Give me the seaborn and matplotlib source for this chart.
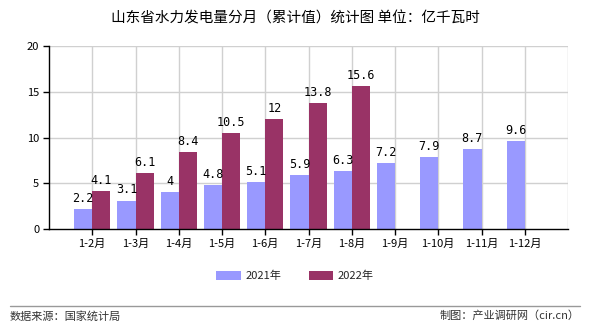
import matplotlib
matplotlib.use("Agg")
import matplotlib.pyplot as plt
from matplotlib.patches import Patch
import seaborn as sns
import pandas as pd

categories = ["1-2月", "1-3月", "1-4月", "1-5月", "1-6月", "1-7月", "1-8月",
              "1-9月", "1-10月", "1-11月", "1-12月"]
values_2021 = [2.2, 3.1, 4, 4.8, 5.1, 5.9, 6.3, 7.2, 7.9, 8.7, 9.6]
values_2022 = [4.1, 6.1, 8.4, 10.5, 12, 13.8, 15.6]
series_names = ["2021年", "2022年"]
colors = ["#9999FF", "#993366"]

rows = []
for c, v in zip(categories, values_2021):
    rows.append({"cat": c, "year": series_names[0], "val": v})
for c, v in zip(categories, values_2022):
    rows.append({"cat": c, "year": series_names[1], "val": v})
df = pd.DataFrame(rows)

sns.set_theme(style="white")
plt.rcParams["font.family"] = ["Noto Sans CJK SC", "DejaVu Sans"]

fig = plt.figure(figsize=(5.9, 3.3), dpi=100)
ax = fig.add_axes([49 / 590, 1 - 229 / 330, 519 / 590, 183 / 330])

sns.barplot(data=df, x="cat", y="val", hue="year", order=categories,
            hue_order=series_names, palette=colors, width=0.84,
            saturation=1, ax=ax, legend=False, linewidth=0, edgecolor="none")

ax.set_xlim(-1, len(categories))
ax.set_ylim(0, 20)
ax.set_yticks([0, 5, 10, 15, 20])
ax.set_xlabel("")
ax.set_ylabel("")

# grid: horizontal at y ticks, vertical at category ticks plus right edge
for y in [5, 10, 15, 20]:
    ax.axhline(y, color="#d0d0d0", lw=1, zorder=0)
for x in list(range(len(categories))) + [len(categories)]:
    ax.axvline(x, color="#d0d0d0", lw=1, zorder=0)

for s in ["top", "right"]:
    ax.spines[s].set_visible(False)
for s in ["left", "bottom"]:
    ax.spines[s].set_color("black")
    ax.spines[s].set_linewidth(1)

ax.tick_params(axis="both", which="both", length=4, width=1, color="black",
               labelsize=8, pad=3, direction="out", bottom=True, left=True)
for lbl in ax.get_xticklabels() + ax.get_yticklabels():
    lbl.set_color("black")

# value labels above bars
for cont in ax.containers:
    ax.bar_label(cont, labels=[f"{v:g}" for v in cont.datavalues],
                 padding=3, fontsize=8.5, family=["DejaVu Sans Mono"],
                 color="black")

fig.suptitle("山东省水力发电量分月（累计值）统计图 单位：亿千瓦时",
             y=1 - 18 / 330, va="center", fontsize=10.5, color="black")

# legend
handles = [Patch(facecolor=c, edgecolor="none") for c in colors]
fig.legend(handles, series_names, loc="center", bbox_to_anchor=(0.5, 1 - 276 / 330),
           ncol=2, frameon=False, fontsize=8, handlelength=2.2, handleheight=0.9,
           columnspacing=2.5, handletextpad=0.4)

# footer
fig.add_artist(plt.Line2D([10 / 590, 580 / 590], [1 - 306 / 330, 1 - 306 / 330],
                          color="#999999", lw=1, transform=fig.transFigure))
fig.text(10 / 590, 1 - 316 / 330, "数据来源：国家统计局", fontsize=8,
         va="center", ha="left", color="#333333")
fig.text(580 / 590, 1 - 316 / 330, "制图：产业调研网（cir.cn）", fontsize=8,
         va="center", ha="right", color="#333333")

fig.savefig("out.png", dpi=100)
